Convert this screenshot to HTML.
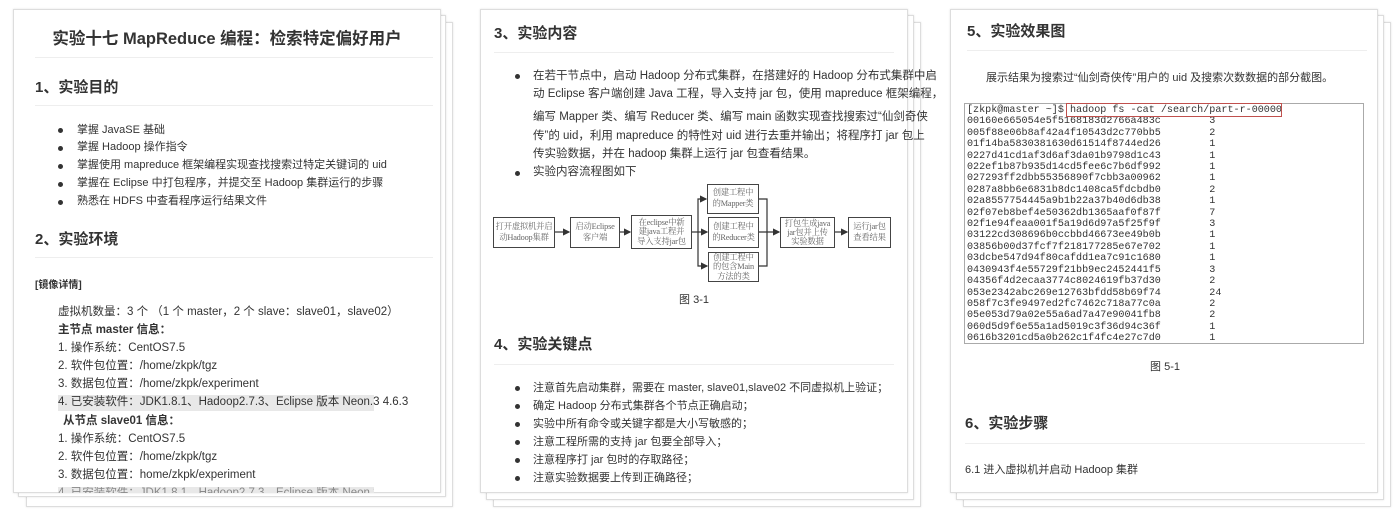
<!DOCTYPE html>
<html><head><meta charset="utf-8"><style>
*{margin:0;padding:0;box-sizing:border-box}
body{width:1400px;height:522px;background:#fff;position:relative;overflow:hidden;font-family:"Liberation Sans","Noto Sans CJK SC",sans-serif;color:#333}
.pg{position:absolute;background:#fff;border:1px solid #ddd;box-shadow:0 0 2px rgba(0,0,0,.12)}
.a{position:absolute;white-space:nowrap;line-height:1}
.h{font-weight:bold;font-size:15px;color:#333}
.hr{position:absolute;height:1px;background:#eee}
.t{font-size:11px;color:#333}
.b{font-size:11.5px}
.dot{position:absolute;width:5px;height:5px;border-radius:50%;background:#333}
.hl{background:#e8e8e8}
.box{position:absolute;border:1.3px solid #444;background:#fff;font-family:"Liberation Serif","Noto Serif CJK SC",serif;font-size:8.3px;color:#666;text-align:center;display:flex;align-items:center;justify-content:center;line-height:1.3;white-space:nowrap;letter-spacing:-0.2px}
.term{position:absolute;left:964px;top:103px;width:400px;height:241px;border:1px solid #aaa;background:#fff;font-family:"Liberation Mono","DejaVu Sans Mono",monospace;font-size:10.1px;color:#333;line-height:11.4px;padding:1px 0 0 2px;white-space:pre;overflow:hidden}
</style></head><body>
<!-- Panel 1 -->
<div class="pg" style="left:26px;top:22px;width:427px;height:485px"></div>
<div class="pg" style="left:18px;top:15px;width:428px;height:482px"></div>
<div class="pg" style="left:13px;top:9px;width:428px;height:484px"></div>
<div class="a" style="left:13px;width:428px;text-align:center;top:31px;font-size:16.5px;font-weight:bold">实验十七 MapReduce 编程：检索特定偏好用户</div>
<div class="hr" style="left:35px;width:398px;top:57px"></div>
<div class="a h" style="left:35px;top:80px">1、实验目的</div>
<div class="hr" style="left:35px;width:398px;top:105px"></div>
<div class="dot" style="left:58px;top:128px"></div><div class="a t" style="left:77px;top:125px">掌握 JavaSE 基础</div>
<div class="dot" style="left:58px;top:146px"></div><div class="a t" style="left:77px;top:142px">掌握 Hadoop 操作指令</div>
<div class="dot" style="left:58px;top:164px"></div><div class="a t" style="left:77px;top:160px">掌握使用 mapreduce 框架编程实现查找搜索过特定关键词的 uid</div>
<div class="dot" style="left:58px;top:182px"></div><div class="a t" style="left:77px;top:178px">掌握在 Eclipse 中打包程序，并提交至 Hadoop 集群运行的步骤</div>
<div class="dot" style="left:58px;top:200px"></div><div class="a t" style="left:77px;top:196px">熟悉在 HDFS 中查看程序运行结果文件</div>
<div class="a h" style="left:35px;top:232px">2、实验环境</div>
<div class="hr" style="left:35px;width:398px;top:257px"></div>
<div class="a" style="left:35px;top:281px;font-size:10px;font-weight:bold">[镜像详情]</div>
<div class="a b" style="left:58px;top:307px">虚拟机数量：3 个 （1 个 master，2 个 slave：slave01，slave02）</div>
<div class="a b" style="left:58px;top:325px;font-weight:bold">主节点 master 信息：</div>
<div class="a b" style="left:58px;top:343px">1. 操作系统：CentOS7.5</div>
<div class="a b" style="left:58px;top:361px">2. 软件包位置：/home/zkpk/tgz</div>
<div class="a b" style="left:58px;top:379px">3. 数据包位置：/home/zkpk/experiment</div>
<div class="a b hl" style="left:58px;top:395px;padding:2px 0;width:316px">4. 已安装软件：JDK1.8.1、Hadoop2.7.3、Eclipse 版本 Neon.3 4.6.3</div>
<div class="a b" style="left:63px;top:416px;font-weight:bold">从节点 slave01 信息：</div>
<div class="a b" style="left:58px;top:434px">1. 操作系统：CentOS7.5</div>
<div class="a b" style="left:58px;top:452px">2. 软件包位置：/home/zkpk/tgz</div>
<div class="a b" style="left:58px;top:470px">3. 数据包位置：home/zkpk/experiment</div>
<div style="position:absolute;left:58px;top:487px;width:316px;height:6px;background:#e8e8e8;overflow:hidden"><div class="a b" style="top:1px;color:#888">4. 已安装软件：JDK1.8.1、Hadoop2.7.3、Eclipse 版本 Neon.3 4.6.3</div></div>

<!-- Panel 2 -->
<div class="pg" style="left:493px;top:22px;width:428px;height:485px"></div>
<div class="pg" style="left:486px;top:15px;width:428px;height:485px"></div>
<div class="pg" style="left:480px;top:9px;width:428px;height:484px"></div>
<div class="a h" style="left:494px;top:26px">3、实验内容</div>
<div class="hr" style="left:494px;width:400px;top:52px"></div>
<div class="dot" style="left:515px;top:74px"></div>
<div class="a b" style="left:533px;top:71px">在若干节点中，启动 Hadoop 分布式集群，在搭建好的 Hadoop 分布式集群中启</div>
<div class="a b" style="left:533px;top:89px">动 Eclipse 客户端创建 Java 工程，导入支持 jar 包，使用 mapreduce 框架编程，</div>
<div class="a b" style="left:533px;top:112px">编写 Mapper 类、编写 Reducer 类、编写 main 函数实现查找搜索过“仙剑奇侠</div>
<div class="a b" style="left:533px;top:131px">传”的 uid，利用 mapreduce 的特性对 uid 进行去重并输出；将程序打 jar 包上</div>
<div class="a b" style="left:533px;top:149px">传实验数据，并在 hadoop 集群上运行 jar 包查看结果。</div>
<div class="dot" style="left:515px;top:171px"></div>
<div class="a b" style="left:533px;top:167px">实验内容流程图如下</div>
<svg style="position:absolute;left:0;top:0" width="1400" height="522">
<defs><marker id="ar" markerWidth="6" markerHeight="6" refX="5" refY="3" orient="auto"><path d="M0,0 L6,3 L0,6z" fill="#333"/></marker></defs>
<g stroke="#333" stroke-width="1.2" fill="none">
<line x1="555" y1="232" x2="569" y2="232" marker-end="url(#ar)"/>
<line x1="620" y1="232" x2="630" y2="232" marker-end="url(#ar)"/>
<line x1="692" y1="232" x2="707" y2="232" marker-end="url(#ar)"/>
<polyline points="698,232 698,199 706,199" marker-end="url(#ar)"/>
<polyline points="698,232 698,266 707,266" marker-end="url(#ar)"/>
<polyline points="759,199 767,199 767,266 759,266"/>
<line x1="759" y1="232" x2="779" y2="232" marker-end="url(#ar)"/>
<line x1="835" y1="232" x2="847" y2="232" marker-end="url(#ar)"/>
</g></svg>
<div class="box" style="left:493px;top:217px;width:62px;height:31px">打开虚拟机并启<br>动Hadoop集群</div>
<div class="box" style="left:570px;top:217px;width:50px;height:31px">启动Eclipse<br>客户端</div>
<div class="box" style="left:631px;top:215px;width:61px;height:34px;line-height:1.15">在eclipse中新<br>建java工程并<br>导入支持jar包</div>
<div class="box" style="left:707px;top:184px;width:52px;height:30px">创建工程中<br>的Mapper类</div>
<div class="box" style="left:708px;top:217px;width:51px;height:31px">创建工程中<br>的Reducer类</div>
<div class="box" style="left:708px;top:252px;width:51px;height:30px;line-height:1.1">创建工程中<br>的包含Main<br>方法的类</div>
<div class="box" style="left:780px;top:217px;width:55px;height:31px;line-height:1.1">打包生成java<br>jar包并上传<br>实验数据</div>
<div class="box" style="left:848px;top:217px;width:43px;height:31px">运行jar包<br>查看结果</div>
<div class="a t" style="left:480px;width:428px;text-align:center;top:295px">图 3-1</div>
<div class="a h" style="left:494px;top:337px">4、实验关键点</div>
<div class="hr" style="left:494px;width:400px;top:364px"></div>
<div class="dot" style="left:515px;top:386px"></div><div class="a t" style="left:533px;top:383px">注意首先启动集群，需要在 master, slave01,slave02 不同虚拟机上验证；</div>
<div class="dot" style="left:515px;top:404px"></div><div class="a t" style="left:533px;top:401px">确定 Hadoop 分布式集群各个节点正确启动；</div>
<div class="dot" style="left:515px;top:422px"></div><div class="a t" style="left:533px;top:419px">实验中所有命令或关键字都是大小写敏感的；</div>
<div class="dot" style="left:515px;top:440px"></div><div class="a t" style="left:533px;top:437px">注意工程所需的支持 jar 包要全部导入；</div>
<div class="dot" style="left:515px;top:458px"></div><div class="a t" style="left:533px;top:455px">注意程序打 jar 包时的存取路径；</div>
<div class="dot" style="left:515px;top:476px"></div><div class="a t" style="left:533px;top:473px">注意实验数据要上传到正确路径；</div>

<!-- Panel 3 -->
<div class="pg" style="left:963px;top:22px;width:428px;height:485px"></div>
<div class="pg" style="left:956px;top:15px;width:428px;height:485px"></div>
<div class="pg" style="left:950px;top:9px;width:428px;height:484px"></div>
<div class="a h" style="left:967px;top:24px">5、实验效果图</div>
<div class="hr" style="left:967px;width:400px;top:50px"></div>
<div class="a t" style="left:986px;top:73px">展示结果为搜索过“仙剑奇侠传”用户的 uid 及搜索次数数据的部分截图。</div>
<div class="term">[zkpk@master ~]$ hadoop fs -cat /search/part-r-00000
00160e665054e5f5168183d2766a483c        3
005f88e06b8af42a4f10543d2c770bb5        2
01f14ba5830381630d61514f8744ed26        1
0227d41cd1af3d6af3da01b9798d1c43        1
022ef1b87b935d14cd5fee6c7b6df992        1
027293ff2dbb55356890f7cbb3a00962        1
0287a8bb6e6831b8dc1408ca5fdcbdb0        2
02a8557754445a9b1b22a37b40d6db38        1
02f07eb8bef4e50362db1365aaf0f87f        7
02f1e94feaa001f5a19d6d97a5f25f9f        3
03122cd308696b0ccbbd46673ee49b0b        1
03856b00d37fcf7f218177285e67e702        1
03dcbe547d94f80cafdd1ea7c91c1680        1
0430943f4e55729f21bb9ec2452441f5        3
04356f4d2ecaa3774c8024619fb37d30        2
053e2342abc269e12763bfdd58b69f74        24
058f7c3fe9497ed2fc7462c718a77c0a        2
05e053d79a02e55a6ad7a47e90041fb8        2
060d5d9f6e55a1ad5019c3f36d94c36f        1
0616b3201cd5a0b262c1f4fc4e27c7d0        1</div>
<div style="position:absolute;left:1066px;top:103px;width:216px;height:14px;border:1.5px solid #c0504d"></div>
<div class="a t" style="left:950px;width:430px;text-align:center;top:362px">图 5-1</div>
<div class="a h" style="left:965px;top:416px">6、实验步骤</div>
<div class="hr" style="left:965px;width:400px;top:443px"></div>
<div class="a t" style="left:965px;top:465px">6.1 进入虚拟机并启动 Hadoop 集群</div>
</body></html>
